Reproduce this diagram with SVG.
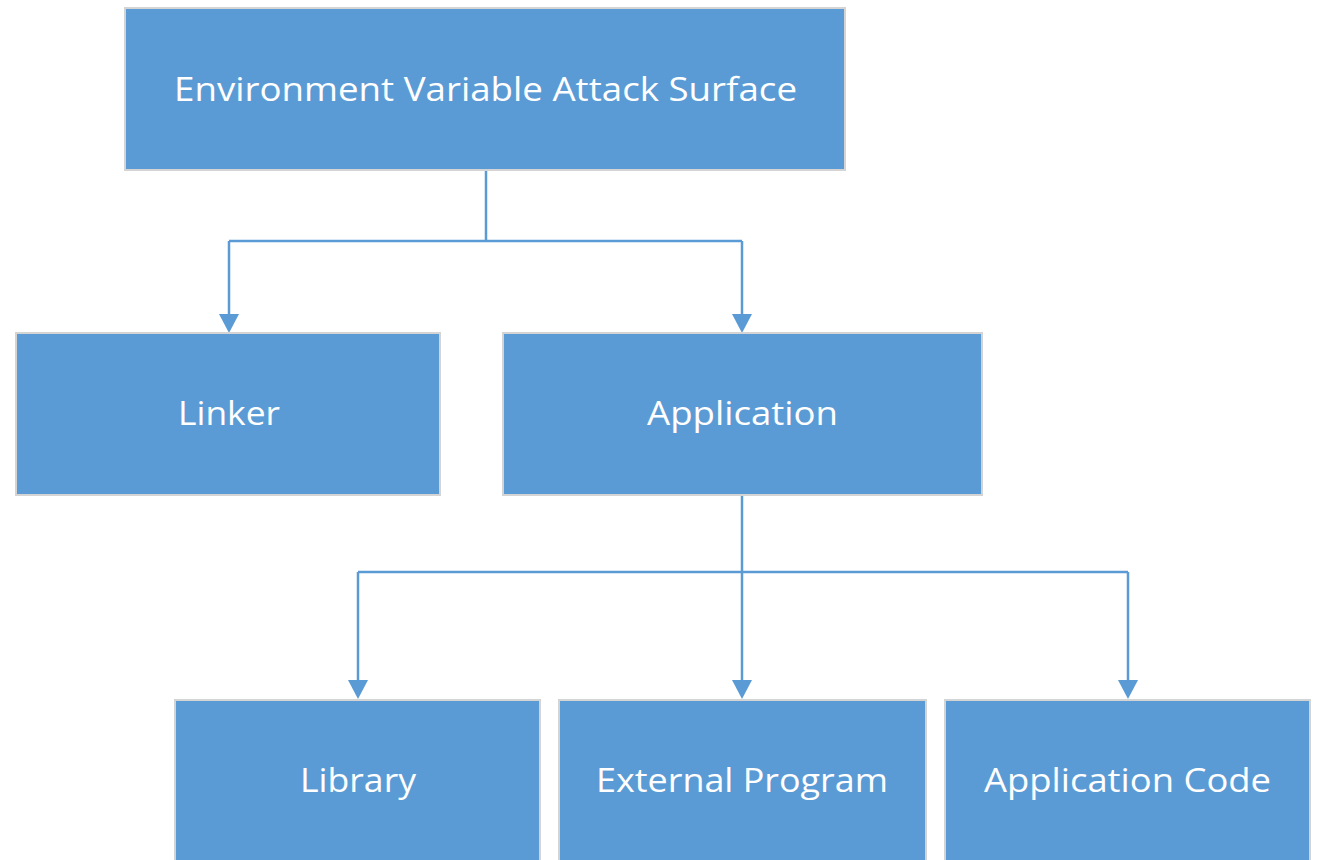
<svg xmlns="http://www.w3.org/2000/svg" width="1317" height="860" viewBox="0 0 1317 860">
<style>
.box{fill:#5B9BD5;stroke:#D4D4D4;stroke-width:2}
.lbl{fill:#FFFFFF;font-family:"Open Sans","Liberation Sans",sans-serif;font-size:33px;text-anchor:middle}
.conn{fill:none;stroke:#5B9BD5;stroke-width:2.5}
</style>
<defs>
<marker id="arr" markerUnits="userSpaceOnUse" markerWidth="22" markerHeight="20" refX="10" refY="18" orient="auto-start-reverse" viewBox="0 0 20 18">
<path d="M0,0 L20,0 L10,18 Z" fill="#5B9BD5" transform="rotate(0)"/>
</marker>
</defs>
<rect width="1317" height="860" fill="#FFFFFF"/>
<g id="connectors">
<path class="conn" d="M486,170 V241"/>
<path class="conn" d="M229,241 H742"/>
<path d="M229,241 V315" class="conn"/>
<path d="M219,314 L239,314 L229,333 Z" fill="#5B9BD5"/>
<path d="M742,241 V315" class="conn"/>
<path d="M732,314 L752,314 L742,333 Z" fill="#5B9BD5"/>
<path class="conn" d="M742,495 V572"/>
<path class="conn" d="M358,572 H1128"/>
<path d="M358,572 V682" class="conn"/>
<path d="M348,680 L368,680 L358,699 Z" fill="#5B9BD5"/>
<path d="M742,572 V682" class="conn"/>
<path d="M732,680 L752,680 L742,699 Z" fill="#5B9BD5"/>
<path d="M1128,572 V682" class="conn"/>
<path d="M1118,680 L1138,680 L1128,699 Z" fill="#5B9BD5"/>
</g>
<g id="node-env">
<rect class="box" x="125" y="8" width="720" height="162"/>
<text class="lbl" x="485.5" y="101" textLength="623" lengthAdjust="spacingAndGlyphs">Environment Variable Attack Surface</text>
</g>
<g id="node-linker">
<rect class="box" x="16" y="333" width="424" height="162"/>
<text class="lbl" x="229" y="425" textLength="102" lengthAdjust="spacingAndGlyphs">Linker</text>
</g>
<g id="node-application">
<rect class="box" x="503" y="333" width="479" height="162"/>
<text class="lbl" x="742.5" y="425" textLength="191" lengthAdjust="spacingAndGlyphs">Application</text>
</g>
<g id="node-library">
<rect class="box" x="175" y="700" width="365" height="170"/>
<text class="lbl" x="358" y="792" textLength="116" lengthAdjust="spacingAndGlyphs">Library</text>
</g>
<g id="node-external">
<rect class="box" x="559" y="700" width="367" height="170"/>
<text class="lbl" x="742" y="792" textLength="292" lengthAdjust="spacingAndGlyphs">External Program</text>
</g>
<g id="node-appcode">
<rect class="box" x="945" y="700" width="365" height="170"/>
<text class="lbl" x="1127.5" y="792" textLength="287" lengthAdjust="spacingAndGlyphs">Application Code</text>
</g>
</svg>
